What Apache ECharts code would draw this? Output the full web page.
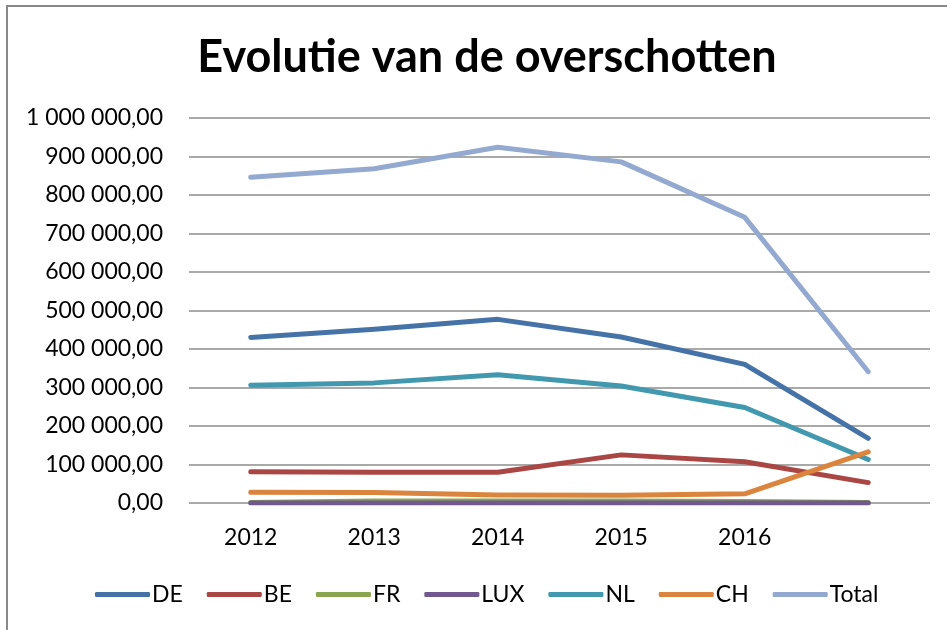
<!DOCTYPE html>
<html>
<head>
<meta charset="utf-8">
<script src="https://cdn.jsdelivr.net/npm/echarts@6/dist/echarts.min.js"></script>
<style>
html, body { margin: 0; padding: 0; background: #fff; }
#chart { width: 947px; height: 630px; }
</style>
</head>
<body>
<div id="chart"></div>
<script>
// jaren (laatste categorie heeft geen label)
var years = ['2012', '2013', '2014', '2015', '2016', ''];

var de = [430000, 451000, 477000, 431000, 360000, 168000];
var be = [81000, 80000, 80000, 125000, 107000, 53000];
var fr = [1000, 5000, 5000, 5000, 4000, 1000];
var lux = [0, 0, 0, 0, 0, 0];
var nl = [306000, 312000, 333000, 304000, 248000, 113000];
var ch = [28000, 27000, 21000, 20000, 24000, 133000];
var total = [846000, 868000, 924000, 886000, 742000, 341000];

var names = ['DE', 'BE', 'FR', 'LUX', 'NL', 'CH', 'Total'];
var values = [de, be, fr, lux, nl, ch, total];
var colors = ['#4572A7', '#AA4643', '#89A54E', '#71588F', '#4198AF', '#DB843D', '#93A9CF'];

var font = 'Lato, "Open Sans", sans-serif';

function fmt(v) {
    var s = String(Math.round(v));
    s = s.replace(/\B(?=(\d{3})+(?!\d))/g, ' ');
    return s + ',00';
}

var chart = echarts.init(document.getElementById('chart'));

var series = names.map(function (n, i) {
    return {
        name: n,
        type: 'line',
        data: values[i],
        symbol: 'none',
        color: colors[i],
        lineStyle: { width: 5, cap: 'round', join: 'round' }
    };
});

chart.setOption({
    animation: false,
    backgroundColor: '#fff',
    textStyle: { fontFamily: font },
    title: {
        // \u200C voorkomt de "ti"-ligatuur van Lato
        text: 'Evolu\u200Ctie van de overschotten',
        left: 482,
        textAlign: 'center',
        top: 30,
        textStyle: { fontFamily: font, fontWeight: 'bold', fontSize: 45, color: '#000' }
    },
    graphic: [{
        type: 'rect',
        shape: { x: 7, y: 6, width: 960, height: 700 },
        style: { fill: null, stroke: '#888', lineWidth: 2 },
        silent: true
    }],
    legend: {
        data: names,
        left: 90,
        top: 578,
        itemWidth: 55,
        itemHeight: 5,
        itemGap: 24,
        icon: 'roundRect',
        textStyle: { fontFamily: font, fontSize: 23, color: '#000', padding: [0, 0, 0, -3] }
    },
    grid: { left: 189, right: 17, top: 118, bottom: 127 },
    xAxis: {
        type: 'category',
        data: years,
        boundaryGap: true,
        axisLine: { show: false },
        axisTick: { show: false },
        axisLabel: { color: '#000', fontSize: 23, margin: 23, fontFamily: font }
    },
    yAxis: {
        type: 'value',
        min: 0,
        max: 1000000,
        interval: 100000,
        axisLine: { show: false },
        axisTick: { show: false },
        splitLine: { lineStyle: { color: '#8c8c8c', width: 1.5 } },
        axisLabel: { color: '#000', fontSize: 23, margin: 26, fontFamily: font, formatter: fmt }
    },
    series: series
});
</script>
</body>
</html>
